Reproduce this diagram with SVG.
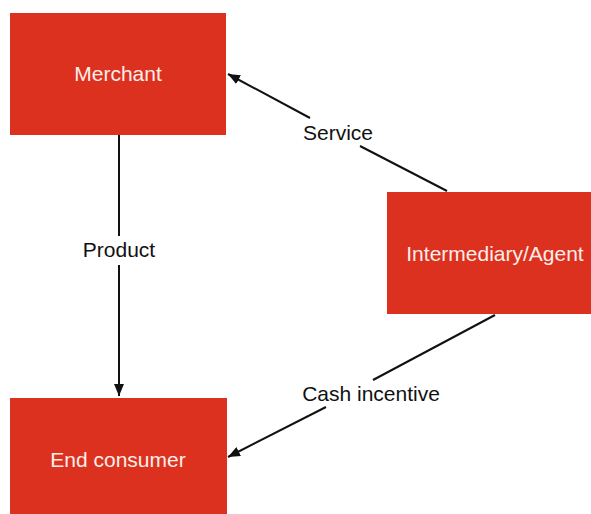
<svg xmlns="http://www.w3.org/2000/svg" width="591" height="514" viewBox="0 0 591 514">
<style>
.box{fill:#dd311f}
.bl{font-family:"Liberation Sans",Arial,sans-serif;font-size:21px;fill:#fbeeea;text-anchor:middle}
.el{font-family:"Liberation Sans",Arial,sans-serif;font-size:21px;fill:#111;text-anchor:middle}
.ln{stroke:#111;stroke-width:2;fill:none}
</style>
<defs>
<marker id="ah" viewBox="0 0 12 10" refX="12" refY="5" markerWidth="12" markerHeight="10" markerUnits="userSpaceOnUse" orient="auto">
<path d="M0,0 L12,5 L0,10 Z" fill="#111"/>
</marker>
</defs>
<rect width="591" height="514" fill="#fff"/>
<g id="merchant"><rect class="box" x="10" y="13" width="216" height="122"/><text class="bl" x="118" y="81">Merchant</text></g>
<g id="agent"><rect class="box" x="387" y="192" width="204" height="122"/><text class="bl" x="495" y="261">Intermediary/Agent</text></g>
<g id="consumer"><rect class="box" x="10" y="398" width="217" height="116"/><text class="bl" x="118" y="467">End consumer</text></g>
<g id="connectors">
<line class="ln" x1="119" y1="135" x2="119" y2="236"/>
<line class="ln" x1="119" y1="265" x2="119" y2="396" marker-end="url(#ah)"/>
<text class="el" x="119" y="257">Product</text>
<line class="ln" x1="447" y1="191" x2="360" y2="146"/>
<line class="ln" x1="310" y1="118" x2="228" y2="74" marker-end="url(#ah)"/>
<text class="el" x="338" y="140">Service</text>
<line class="ln" x1="495" y1="315" x2="373" y2="380"/>
<line class="ln" x1="326" y1="407" x2="228" y2="457" marker-end="url(#ah)"/>
<text class="el" x="371" y="401">Cash incentive</text>
</g>
</svg>
